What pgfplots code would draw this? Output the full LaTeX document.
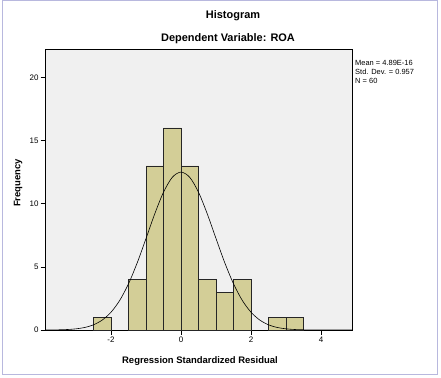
\documentclass[border=0pt]{standalone}
\usepackage{pgfplots}
\pgfplotsset{compat=1.18}
\usepackage{fontspec}
\setmainfont{Liberation Sans}
\definecolor{barfill}{RGB}{211,206,151}
\definecolor{plotbg}{RGB}{240,240,240}
\definecolor{frameline}{RGB}{184,184,222}
\begin{document}
\begin{tikzpicture}[x=1bp,y=1bp]
\useasboundingbox (0,0) rectangle (441,377);
\fill[white] (0,0) rectangle (441,377);
\draw[frameline,line width=1bp] (2.5,3) rectangle (437.5,376);
\begin{axis}[
  at={(45bp,47bp)}, anchor=south west,
  scale only axis, width=307bp, height=281bp,
  xmin=-3.886, xmax=4.886, ymin=0, ymax=22.25,
  axis background/.style={fill=plotbg},
  axis line style={line width=0.8bp,black},
  xtick={-2,0,2,4}, xticklabels={-2,0,2,4},
  ytick={0,5,10,15,20}, yticklabels={0,5,10,15,20},
  tick align=outside, xtick pos=bottom, ytick pos=left,
  major tick length=4.5bp,
  tick style={black,line width=0.6bp},
  tick label style={font=\fontsize{8}{9}\selectfont},
  xticklabel style={yshift=1bp},
  yticklabel style={xshift=1.5bp},
  clip=false,
]
\addplot[ybar, bar width=0.5, bar shift=0pt, fill=barfill, draw=black!85, line width=0.6bp]
coordinates {(-2.25,1) (-1.25,4) (-0.75,13) (-0.25,16) (0.25,13) (0.75,4) (1.25,3) (1.75,4) (2.75,1) (3.25,1)};
\addplot[smooth, black, line width=0.6bp, no markers] coordinates {
(-3.886,0.0033) (-3.75,0.0058) (-3.5,0.0156) (-3.25,0.0391) (-3.0,0.0919) (-2.75,0.201) (-2.5,0.412) (-2.25,0.789) (-2.0,1.408) (-1.75,2.350) (-1.5,3.662) (-1.25,5.329) (-1.0,7.245) (-0.75,9.199) (-0.5,10.910) (-0.25,12.087) (0,12.506) (0.25,12.087) (0.5,10.910) (0.75,9.199) (1.0,7.245) (1.25,5.329) (1.5,3.662) (1.75,2.350) (2.0,1.408) (2.25,0.789) (2.5,0.412) (2.75,0.201) (3.0,0.0919) (3.25,0.0391) (3.5,0.0156) (3.75,0.0058) (4.0,0.0020) (4.5,0.0002) (4.886,0)};
\end{axis}
\node[font=\fontsize{11}{13}\selectfont\bfseries] at (233,361) {Histogram};
\node[font=\fontsize{11}{13}\selectfont\bfseries] at (228,338) {Dependent Variable: ROA};
\node[font=\fontsize{9.5}{11}\selectfont\bfseries] at (200,16) {Regression Standardized Residual};
\node[font=\fontsize{9.5}{11}\selectfont\bfseries, rotate=90] at (18,194) {Frequency};
\node[font=\fontsize{7.5}{9}\selectfont, anchor=north west, align=left, inner sep=0pt] at (355,317) {Mean = 4.89E-16\\Std. Dev. = 0.957\\N = 60};
\end{tikzpicture}
\end{document}
